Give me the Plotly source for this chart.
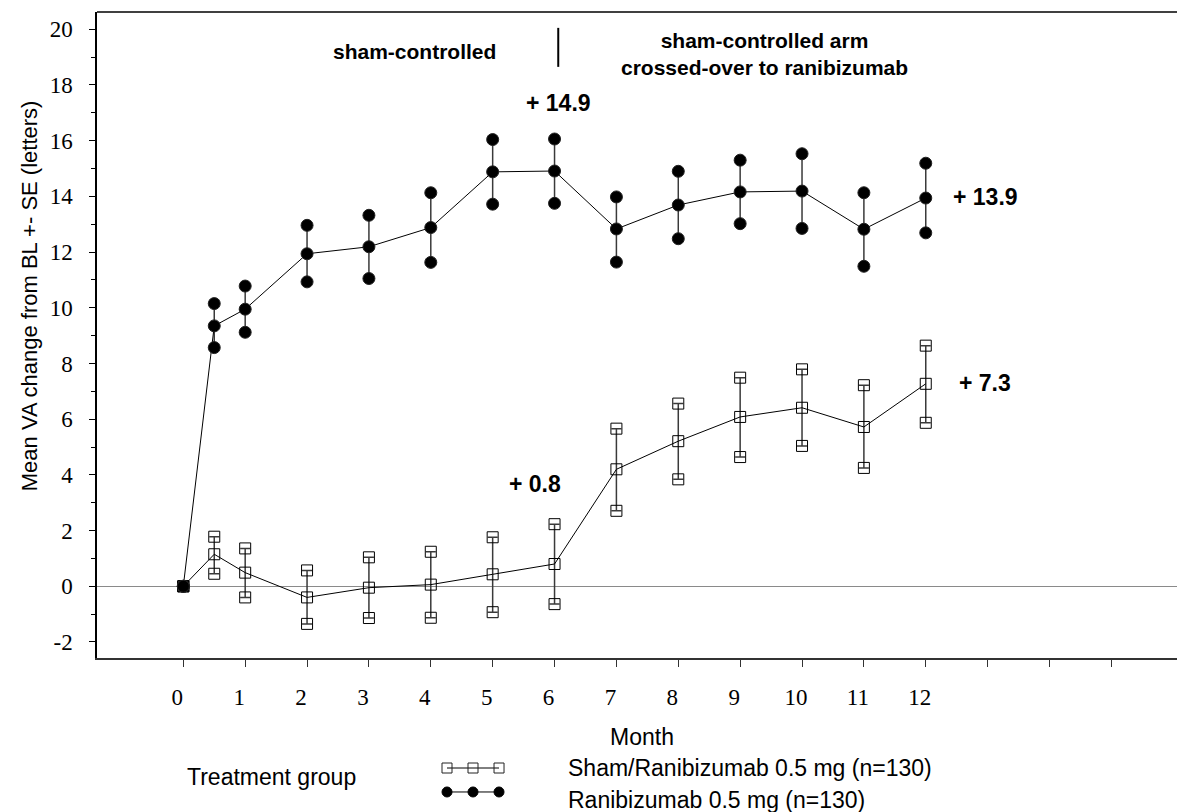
import plotly.graph_objects as go

# ---------------- data ----------------
months = [0, 0.5, 1, 2, 3, 4, 5, 6, 7, 8, 9, 10, 11, 12]

rani_name = "Ranibizumab 0.5 mg (n=130)"
rani_mean = [0, 9.35, 9.95, 11.94, 12.19, 12.88, 14.88, 14.91, 12.83, 13.69, 14.16, 14.19, 12.82, 13.94]
rani_upper = [0, 10.15, 10.78, 12.96, 13.32, 14.13, 16.04, 16.06, 13.98, 14.90, 15.30, 15.53, 14.13, 15.19]
rani_lower = [0, 8.57, 9.12, 10.93, 11.05, 11.63, 13.72, 13.75, 11.64, 12.48, 13.02, 12.85, 11.49, 12.69]

sham_name = "Sham/Ranibizumab 0.5 mg (n=130)"
sham_mean = [0, 1.15, 0.49, -0.40, -0.05, 0.06, 0.43, 0.80, 4.20, 5.21, 6.08, 6.41, 5.72, 7.27]
sham_upper = [0, 1.78, 1.36, 0.57, 1.04, 1.24, 1.76, 2.23, 5.66, 6.56, 7.49, 7.79, 7.22, 8.64]
sham_lower = [0, 0.45, -0.40, -1.35, -1.14, -1.13, -0.93, -0.64, 2.71, 3.84, 4.64, 5.04, 4.25, 5.87]

x_tick_vals = [0, 1, 2, 3, 4, 5, 6, 7, 8, 9, 10, 11, 12, 13, 14, 15]
x_tick_text = ["0", "1", "2", "3", "4", "5", "6", "7", "8", "9", "10", "11", "12", "", "", ""]
y_tick_vals = [-2, 0, 2, 4, 6, 8, 10, 12, 14, 16, 18, 20]
y_tick_text = ["-2", "0", "2", "4", "6", "8", "10", "12", "14", "16", "18", "20"]

x_title = "Month"
y_title = "Mean VA change from BL +- SE (letters)"
legend_title = "Treatment group"

# (text, month, value) labels
value_labels = [("+ 14.9", 6.06, 17.35), ("+ 13.9", 12.96, 13.98),
                ("+ 7.3", 12.96, 7.30), ("+ 0.8", 5.69, 3.67)]
period_labels = [("sham-controlled", 3.73, 19.19),
                 ("sham-controlled arm<br>crossed-over to ranibizumab", 9.40, 19.095)]

SANS = "Liberation Sans, Arial, sans-serif"
SERIF = "Liberation Serif, Times New Roman, serif"

fig = go.Figure()


def add_series(mean, upper, lower, symbol, size, cap, name):
    fig.add_trace(go.Scatter(
        x=months, y=mean, mode="lines+markers", name=name, showlegend=False,
        line=dict(color="black", width=1),
        marker=dict(symbol=symbol, size=size, color="black", line=dict(color="#222", width=1)),
        error_y=dict(type="data", symmetric=False,
                     array=[u - m for u, m in zip(upper, mean)],
                     arrayminus=[m - l for m, l in zip(mean, lower)],
                     color="#3a3a3a", thickness=1.5, width=cap),
    ))
    fig.add_trace(go.Scatter(
        x=months + months, y=upper + lower, mode="markers", showlegend=False,
        marker=dict(symbol=symbol, size=size, color="black", line=dict(color="#222", width=1)),
        hoverinfo="skip",
    ))


add_series(sham_mean, sham_upper, sham_lower, "square-open", 11, 5, sham_name)
add_series(rani_mean, rani_upper, rani_lower, "circle", 12, 0, rani_name)

annotations = []
for txt, mx, vy in value_labels:
    annotations.append(dict(x=mx, y=vy, xref="x", yref="y", text="<b>%s</b>" % txt,
                            xanchor="center", yanchor="middle",
                            showarrow=False, font=dict(family=SANS, size=23, color="black")))
for txt, mx, vy in period_labels:
    annotations.append(dict(x=mx, y=vy, xref="x", yref="y", text="<b>%s</b>" % txt,
                            xanchor="center", yanchor="middle", align="center",
                            showarrow=False, font=dict(family=SANS, size=21, color="black")))

# axis titles and legend texts
annotations += [
    dict(x=0, y=0.56, xref="paper", yref="paper", xshift=-68, text=y_title, textangle=-90,
         xanchor="center", yanchor="middle",
         showarrow=False, font=dict(family=SANS, size=22, color="black")),
    dict(x=0.5009, y=-0.1223, xref="paper", yref="paper", text=x_title,
         xanchor="center", yanchor="middle",
         showarrow=False, font=dict(family=SANS, size=23, color="black")),
    dict(x=0.16, y=-0.1842, xref="paper", yref="paper", text=legend_title,
         xanchor="center", yanchor="middle",
         showarrow=False, font=dict(family=SANS, size=23, color="black")),
    dict(x=0.4311, y=-0.1703, xref="paper", yref="paper", xanchor="left", yanchor="middle",
         text=sham_name, showarrow=False, font=dict(family=SANS, size=23, color="black")),
    dict(x=0.4311, y=-0.2198, xref="paper", yref="paper", xanchor="left", yanchor="middle",
         text=rani_name, showarrow=False, font=dict(family=SANS, size=23, color="black")),
]

shapes = [
    # top frame line
    dict(type="line", xref="paper", yref="paper", x0=0, x1=1, y0=1, y1=1,
         line=dict(color="black", width=1.5)),
    # phase separator
    dict(type="line", xref="x", yref="y", x0=6.06, x1=6.06, y0=18.65, y1=20.05,
         line=dict(color="black", width=2)),
]

# legend samples
leg_x = [0.3217, 0.3456, 0.3695]
for ly, kind in [(-0.1703, "rect"), (-0.2074, "circle")]:
    shapes.append(dict(type="line", xref="paper", yref="paper", x0=leg_x[0], x1=leg_x[-1],
                       y0=ly, y1=ly, line=dict(color="black", width=1)))
    for lx in leg_x:
        shapes.append(dict(type=kind, xref="paper", yref="paper",
                           xsizemode="pixel", ysizemode="pixel", xanchor=lx, yanchor=ly,
                           x0=-5, x1=5, y0=-5, y1=5,
                           fillcolor="black" if kind == "circle" else "rgba(0,0,0,0)",
                           line=dict(color="black" if kind == "circle" else "#222", width=1)))

# page body has an 8px margin: shrink figure and margins by that amount
fig.update_layout(
    width=1177, height=804,
    margin=dict(l=89, r=0, t=4, b=154),
    paper_bgcolor="white", plot_bgcolor="white",
    showlegend=False,
    annotations=annotations,
    shapes=shapes,
    xaxis=dict(range=[-1.395, 16.19], tickmode="array", tickvals=x_tick_vals, ticktext=x_tick_text,
               showgrid=False, zeroline=False, showline=True, linecolor="#333", linewidth=1.5,
               ticks="outside", ticklen=7, tickcolor="#333", tickwidth=1,
               ticklabelshift=-6, ticklabelstandoff=11,
               tickfont=dict(family=SERIF, size=23, color="black")),
    yaxis=dict(range=[-2.575, 20.62], tickmode="array", tickvals=y_tick_vals, ticktext=y_tick_text,
               showgrid=False, zeroline=True, zerolinecolor="#8a8a8a", zerolinewidth=1,
               showline=True, linecolor="black", linewidth=1.5,
               ticks="outside", ticklen=6, tickcolor="black", tickwidth=1,
               ticklabelstandoff=12,
               minor=dict(dtick=1, tick0=0, ticks="outside", ticklen=4, tickcolor="black", showgrid=False),
               tickfont=dict(family=SERIF, size=23, color="black")),
)

fig.write_html("out.html")
